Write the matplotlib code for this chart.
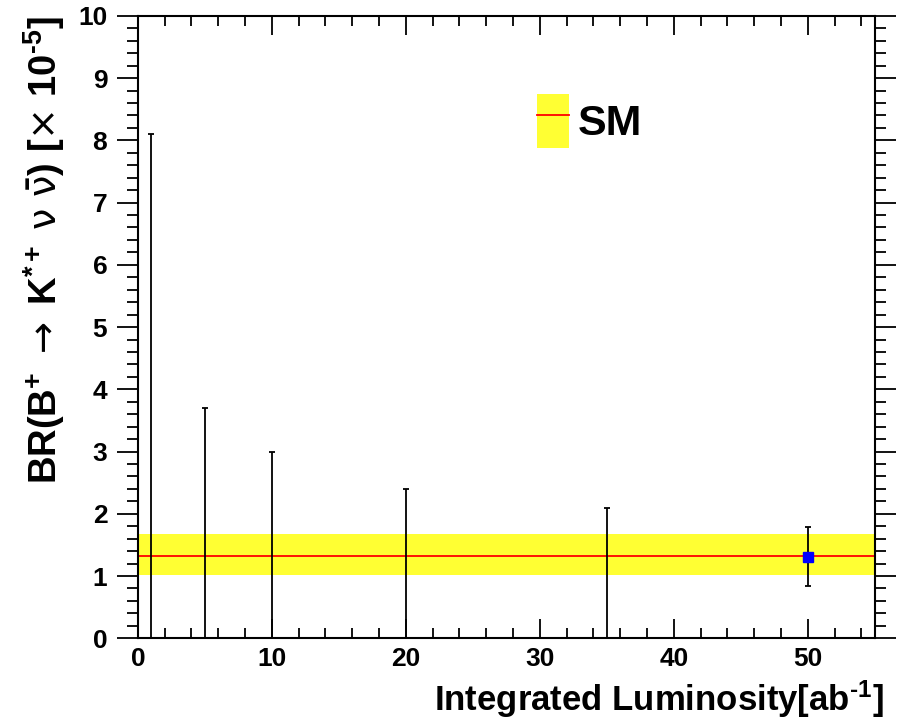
import numpy as np
import matplotlib.pyplot as plt
from matplotlib.patches import Patch
from matplotlib.lines import Line2D
from matplotlib.ticker import MultipleLocator

plt.rcParams['font.family'] = ['Liberation Sans', 'DejaVu Sans']
plt.rcParams['font.weight'] = 'bold'
plt.rcParams['mathtext.fontset'] = 'custom'
plt.rcParams['mathtext.rm'] = 'Liberation Sans:bold'
plt.rcParams['mathtext.bf'] = 'Liberation Sans:bold'
plt.rcParams['mathtext.it'] = 'Liberation Sans'
plt.rcParams['mathtext.sf'] = 'DejaVu Sans:normal'

# expected sensitivity vs integrated luminosity
lumi = [1, 5, 10, 20, 35, 50]
br_low = [0.0, 0.0, 0.0, 0.0, 0.0, 0.84]
br_high = [8.1, 3.7, 3.0, 2.4, 2.1, 1.79]
# measured central value only shown for the last point
lumi_point = [50]
br_point = [1.30]

# standard model prediction band
sm_center = 1.32
sm_low = 1.01
sm_high = 1.67
x_range = [0, 55]
y_range = [0, 10]


def main():
    fig = plt.figure(figsize=(9.01, 7.22), dpi=100)
    ax = fig.add_axes([0.153, 0.116, 0.818, 0.862])

    # SM band and its central value
    ax.fill_between(x_range, sm_low, sm_high, color='#ffff33', linewidth=0, zorder=1)
    ax.plot(x_range, [sm_center, sm_center], color='#ff0000', linewidth=1.3, zorder=2)

    # error bars, lower edge at the given value
    lumi_arr = np.array(lumi)
    mid = (np.array(br_low) + np.array(br_high)) / 2
    yerr = [mid - np.array(br_low), np.array(br_high) - mid]
    ax.errorbar(lumi_arr, mid, yerr=yerr, fmt='none', ecolor='black',
                elinewidth=1.3, capsize=2.5, capthick=1.3, zorder=3)
    ax.plot(lumi_point, br_point, 's', color='#0000ff', markersize=7, zorder=4)

    ax.set_xlim(x_range)
    ax.set_ylim(y_range)
    ax.xaxis.set_major_locator(MultipleLocator(10))
    ax.xaxis.set_minor_locator(MultipleLocator(2))
    ax.yaxis.set_major_locator(MultipleLocator(1))
    ax.yaxis.set_minor_locator(MultipleLocator(0.2))
    ax.tick_params(axis='x', which='both', direction='in', top=True, bottom=True)
    ax.tick_params(axis='y', which='both', direction='out', left=True, right=True)
    ax.tick_params(axis='x', which='major', length=14, width=1.3, pad=6, labelsize=19)
    ax.tick_params(axis='x', which='minor', length=7, width=1.3)
    ax.tick_params(axis='y', which='major', length=15, width=1.3, pad=7, labelsize=19)
    ax.tick_params(axis='y', which='minor', length=8, width=1.3)
    for s in ax.spines.values():
        s.set_linewidth(1.5)

    ax.set_xlabel(r'Integrated Luminosity[ab$^{\text{-1}}$]', fontsize=25, fontweight='bold')
    ax.xaxis.set_label_coords(1.012, -0.065)
    ax.xaxis.label.set_horizontalalignment('right')
    ax.set_ylabel(r'BR(B$^{+}$ $\mathsf{\rightarrow}$ K$^{*+}$ $\mathsf{\nu}\ \bar{\mathsf{\nu}}$) [$\mathsf{\times}$ 10$^{\text{-5}}$]',
                  fontsize=27.5, fontweight='bold')
    ax.yaxis.set_label_coords(-0.127, 1.0)
    ax.yaxis.label.set_verticalalignment('center')
    ax.yaxis.label.set_horizontalalignment('right')

    handle = (Patch(facecolor='#ffff33', edgecolor='none'),
              Line2D([], [], color='#ff0000', linewidth=1.3))
    ax.legend([handle], ['SM'], loc='upper left', bbox_to_anchor=(0.541, 0.874),
              frameon=False, fontsize=31, handlelength=0.75, handleheight=1.55,
              handletextpad=0.2, borderpad=0, borderaxespad=0)

    fig.savefig('out.png', dpi=100)


if __name__ == "__main__":
    main()
